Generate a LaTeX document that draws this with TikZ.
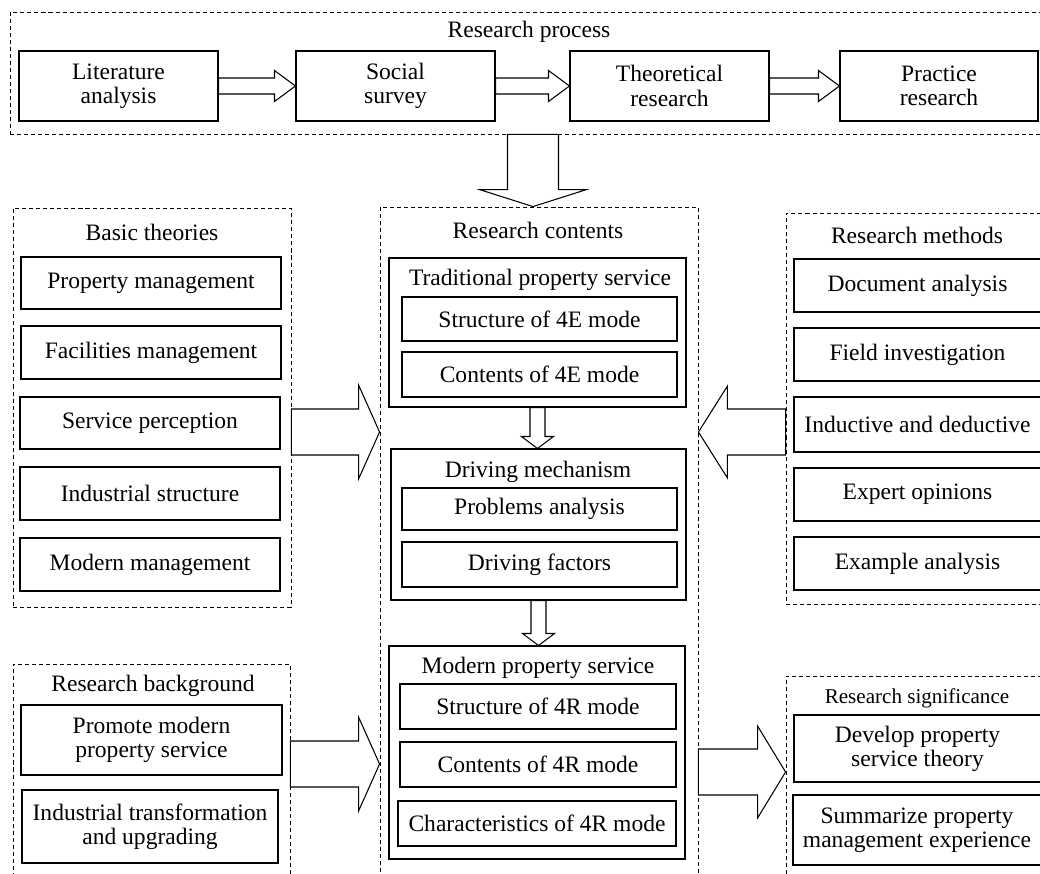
\documentclass[tikz,border=0pt]{standalone}
\usepackage{fontspec}
\setmainfont{Liberation Serif}
\usetikzlibrary{calc,fit}

% hollow block arrow: from, to, half shaft, half head, head length
\newcommand{\hollowarrow}[5]{%
  \coordinate (ha) at ($(#2)!#5!(#1)$);
  \draw[hollow] ($(#1)!#3!90:(#2)$) -- ($(ha)!#3!90:(#2)$) -- ($(ha)!#4!90:(#2)$) -- (#2)
    -- ($(ha)!#4!-90:(#2)$) -- ($(ha)!#3!-90:(#2)$) -- ($(#1)!#3!-90:(#2)$) -- cycle;}

\begin{document}
\begin{tikzpicture}[x=0.02cm, y=-0.02cm, % one unit is one pixel of the figure
  font=\fontsize{13.4}{13.8}\selectfont,
  box/.style={draw, line width=0.6pt, inner sep=0pt},
  txt/.style={label={[align=center]center:#1}},
  dashbox/.style={draw, line width=0.5pt, dash pattern=on 2.3pt off 1.7pt, inner sep=0pt},
  hollow/.style={draw, fill=white, line width=0.6pt, line join=miter}]
\useasboundingbox (0,0) rectangle (1040,873);

% Research process
\node[dashbox, fit={(10,12) (1042,134)}] (process) {};
\node (processtitle) at (529,32) {Research process};
\node[box, fit={(19,51) (218,121)}, txt={Literature\\analysis}] (lit) {};
\node[box, fit={(296,51) (495,121)}, txt={Social\\survey}] (survey) {};
\node[box, fit={(570,51) (769,121)}, txt={Theoretical\\research}] (theory) {};
\node[box, fit={(840,51) (1038,121)}, txt={Practice\\research}] (practice) {};

% Basic theories
\node[dashbox, fit={(13,208) (291,607)}] (basic) {};
\node (basictitle) at (152,232) {Basic theories};
\node[box, fit={(21,257) (281,309)}, txt={Property management}] (pm) {};
\node[box, fit={(21,326) (281,379)}, txt={Facilities management}] (fm) {};
\node[box, fit={(20,397) (280,449)}, txt={Service perception}] (sp) {};
\node[box, fit={(20,467) (280,520)}, txt={Industrial structure}] (is) {};
\node[box, fit={(20,538) (280,591)}, txt={Modern management}] (mm) {};

% Research contents
\node[dashbox, fit={(380,207) (698,885)}] (contents) {};
\node (contentstitle) at (538,230) {Research contents};
\node[box, fit={(389,258) (686,407)}] (trad) {};
\node (tradtitle) at (540,280) {Traditional property service};
\node[box, fit={(402,297) (677,341)}, txt={Structure of 4E mode}] (s4e) {};
\node[box, fit={(402,352) (677,397)}, txt={Contents of 4E mode}] (c4e) {};
\node[box, fit={(391,449) (686,600)}] (drive) {};
\node (drivetitle) at (538,472) {Driving mechanism};
\node[box, fit={(402,488) (677,530)}, txt={Problems analysis}] (prob) {};
\node[box, fit={(402,542) (677,587)}, txt={Driving factors}] (fact) {};
\node[box, fit={(389,646) (685,859)}] (modern) {};
\node (moderntitle) at (538,668) {Modern property service};
\node[box, fit={(400,684) (676,729)}, txt={Structure of 4R mode}] (s4r) {};
\node[box, fit={(400,742) (676,787)}, txt={Contents of 4R mode}] (c4r) {};
\node[box, fit={(398,801) (676,846)}, txt={Characteristics of 4R mode}] (ch4r) {};

% Research methods
\node[dashbox, fit={(786,213) (1045,604)}] (methods) {};
\node (methodstitle) at (917,235) {Research methods};
\node[box, fit={(794,259) (1041,312)}, txt={Document analysis}] (doc) {};
\node[box, fit={(794,328) (1041,381)}, txt={Field investigation}] (field) {};
\node[box, fit={(794,397) (1041,452)}, txt={Inductive and deductive}] (induct) {};
\node[box, fit={(794,468) (1041,521)}, txt={Expert opinions}] (expert) {};
\node[box, fit={(794,537) (1041,590)}, txt={Example analysis}] (example) {};

% Research background
\node[dashbox, fit={(13,664) (290,885)}] (background) {};
\node (backgroundtitle) at (153,686) {Research background};
\node[box, fit={(21,705) (282,775)}, txt={Promote modern\\property service}] (promote) {};
\node[box, fit={(22,790) (278,863)}, txt={Industrial transformation\\and upgrading}] (upgrade) {};

% Research significance
\node[dashbox, fit={(786,676) (1045,885)}] (significance) {};
\node[font=\fontsize{12}{13}\selectfont] (significancetitle) at (917,698) {Research significance};
\node[box, fit={(794,715) (1041,782)}, txt={Develop property\\service theory}] (develop) {};
\node[box, fit={(793,795) (1041,865)}, txt={Summarize property\\management experience}] (summary) {};

% Arrows
\hollowarrow{lit.east}{survey.west}{0.16cm}{0.31cm}{0.42cm}
\hollowarrow{survey.east}{theory.west}{0.16cm}{0.31cm}{0.42cm}
\hollowarrow{theory.east}{practice.west}{0.16cm}{0.31cm}{0.42cm}
\hollowarrow{process.south -| 533,0}{contents.north -| 533,0}{0.51cm}{1.07cm}{0.34cm}
\hollowarrow{basic.east |- 0,432}{contents.west |- 0,432}{0.46cm}{0.94cm}{0.42cm}
\hollowarrow{methods.west |- 0,432}{contents.east |- 0,432}{0.46cm}{0.92cm}{0.58cm}
\hollowarrow{background.east |- 0,764}{contents.west |- 0,764}{0.46cm}{0.94cm}{0.42cm}
\hollowarrow{contents.east |- 0,772}{significance.west |- 0,772}{0.46cm}{0.92cm}{0.56cm}
\hollowarrow{trad.south}{trad.south |- drive.north}{0.15cm}{0.32cm}{0.24cm}
\hollowarrow{drive.south}{drive.south |- modern.north}{0.15cm}{0.32cm}{0.24cm}
\end{tikzpicture}
\end{document}
